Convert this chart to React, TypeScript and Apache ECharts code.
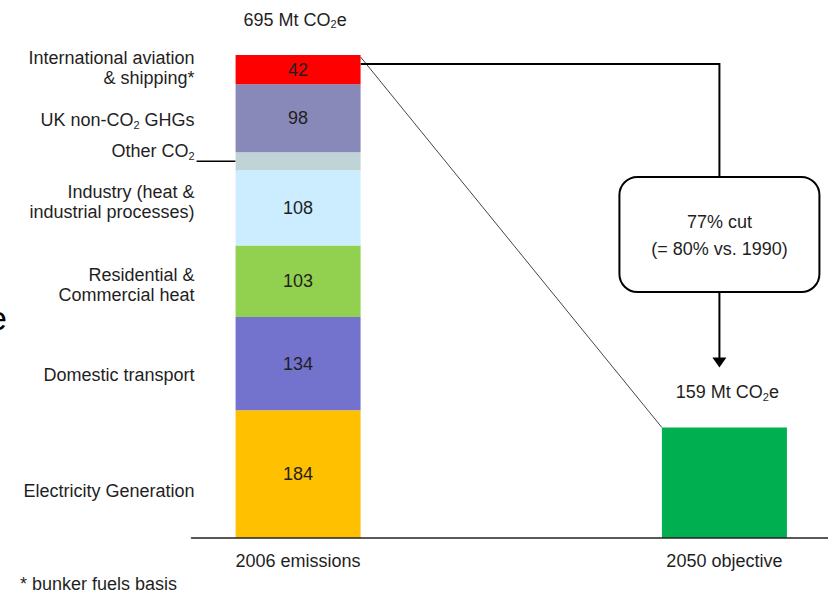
import React, { useEffect, useRef } from 'react';
import * as echarts from 'echarts';

const categories = ['2006 emissions', '', '2050 objective'];
const sectorNames = [
  'Electricity Generation',
  'Domestic transport',
  'Residential &\nCommercial heat',
  'Industry (heat &\nindustrial processes)',
  'Other CO_2',
  'UK non-CO_2 GHGs',
  'International aviation\n& shipping*',
];
const sectorValues2006 = [184, 134, 103, 108, 26, 98, 42];
const sectorColors = ['#FFC000', '#7373CD', '#92D050', '#CCECFF', '#C0D3D6', '#8989B9', '#FF0000'];
const showValueLabel = [true, true, true, true, false, true, true];
const nameLabelNudge = [17, 11, 4, -6, -10, 2, -2];
const total2006 = 695;
const objective2050 = 159;
const totalLabels = ['695 Mt CO_2e', '159 Mt CO_2e'];
const cutText = '77% cut\n(= 80% vs. 1990)';
const footnote = '* bunker fuels basis';

const FONT = 'Liberation Sans, Arial, Helvetica, sans-serif';
const TXT = '#1f1f1f';

function richify(text: string): string {
  return text
    .split('\n')
    .map((line) =>
      line
        .split('_2')
        .map((p, i) => (i > 0 ? '{s|2}' : '') + (p ? `{a|${p}}` : ''))
        .join('')
    )
    .join('\n');
}

const richStyles = {
  a: { fontSize: 18, lineHeight: 20, color: TXT, fontFamily: FONT },
  s: { fontSize: 11, lineHeight: 8, color: TXT, fontFamily: FONT, verticalAlign: 'bottom' },
};

export default function App() {
  const ref = useRef<HTMLDivElement>(null);

  useEffect(() => {
    document.body.style.margin = '0';
    document.body.style.overflow = 'hidden';
    if (!ref.current) return;
    const chart = echarts.init(ref.current, undefined, { renderer: 'svg' });

    const cum: number[] = [];
    let acc = 0;
    sectorValues2006.forEach((v) => {
      cum.push(acc + v / 2);
      acc += v;
    });

    const series: any[] = sectorValues2006.map((v, i) => ({
      type: 'bar',
      name: sectorNames[i],
      stack: 'all',
      barWidth: 125,
      data: [v, '-', '-'],
      itemStyle: { color: sectorColors[i] },
      label: {
        show: showValueLabel[i],
        position: 'inside',
        fontSize: 18,
        color: TXT,
        fontFamily: FONT,
      },
      markPoint: {
        symbol: 'circle',
        symbolSize: 1,
        itemStyle: { color: 'rgba(0,0,0,0)' },
        data: [
          {
            coord: [0, cum[i]],
            name: sectorNames[i],
            label: {
              show: true,
              position: 'left',
              distance: 103,
              offset: [0, nameLabelNudge[i]],
              align: 'right',
              formatter: richify(sectorNames[i]),
              rich: richStyles,
            },
          },
          ...(i === sectorValues2006.length - 1
            ? [
                {
                  coord: [0, total2006],
                  name: 'total',
                  label: {
                    show: true,
                    position: 'top',
                    distance: 25,
                    offset: [-3, 0],
                    formatter: richify(totalLabels[0]),
                    rich: richStyles,
                  },
                },
              ]
            : []),
        ],
      },
    }));

    series.push({
      type: 'bar',
      name: '2050 objective',
      stack: 'all',
      barWidth: 125,
      data: ['-', '-', objective2050],
      itemStyle: { color: '#00B050' },
      markPoint: {
        symbol: 'circle',
        symbolSize: 1,
        itemStyle: { color: 'rgba(0,0,0,0)' },
        data: [
          {
            coord: [2, objective2050],
            name: '2050',
            label: {
              show: true,
              position: 'top',
              distance: 25,
              offset: [3, 0],
              formatter: richify(totalLabels[1]),
              rich: richStyles,
            },
          },
        ],
      },
    });

    chart.setOption({
      animation: false,
      grid: { left: 191.5, right: 0, top: 55, bottom: 55 },
      xAxis: {
        type: 'category',
        data: categories,
        z: 10,
        axisLine: { lineStyle: { color: '#222', width: 1.5 } },
        axisTick: { show: false },
        axisLabel: { fontSize: 18, color: TXT, fontFamily: FONT, margin: 14 },
      },
      yAxis: { type: 'value', min: 0, max: total2006, show: false, splitLine: { show: false } },
      series,
    });

    const half = 62.5;
    const [cx06, yTop] = chart.convertToPixel({ gridIndex: 0 }, [0, total2006]) as number[];
    const [cx50, y50] = chart.convertToPixel({ gridIndex: 0 }, [2, objective2050]) as number[];
    const otherMid = chart.convertToPixel({ gridIndex: 0 }, [0, cum[4]]) as number[];
    const ax = cx50 - 5;
    const boxTop = 177;
    const boxH = 115;
    const boxW = 200;

    chart.setOption({
      graphic: [
        {
          type: 'line',
          shape: { x1: cx06 + half, y1: yTop + 2, x2: cx50 - half, y2: y50 },
          style: { stroke: '#444', lineWidth: 1 },
        },
        {
          type: 'polyline',
          shape: { points: [[cx06 + half, yTop + 9], [ax, yTop + 9], [ax, boxTop]] },
          style: { stroke: '#000', lineWidth: 2, fill: 'none' },
        },
        {
          type: 'rect',
          shape: { x: ax - boxW / 2, y: boxTop, width: boxW, height: boxH, r: 18 },
          style: { stroke: '#000', lineWidth: 2, fill: '#fff' },
        },
        {
          type: 'text',
          x: ax,
          y: boxTop + boxH / 2 + 1,
          style: {
            text: cutText,
            font: `18px ${FONT}`,
            fill: TXT,
            align: 'center',
            verticalAlign: 'middle',
            lineHeight: 27,
          },
        },
        {
          type: 'line',
          shape: { x1: ax, y1: boxTop + boxH, x2: ax, y2: y50 - 68 },
          style: { stroke: '#000', lineWidth: 2 },
        },
        {
          type: 'polygon',
          shape: { points: [[ax - 7, y50 - 70], [ax + 7, y50 - 70], [ax, y50 - 60]] },
          style: { fill: '#000' },
        },
        {
          type: 'line',
          shape: { x1: cx06 - half - 39, y1: otherMid[1], x2: cx06 - half, y2: otherMid[1] },
          style: { stroke: '#000', lineWidth: 1.5 },
        },
        {
          type: 'text',
          x: -12,
          y: 318,
          style: { text: 'e', font: `34px ${FONT}`, fill: '#000', align: 'left', verticalAlign: 'middle' },
        },
        {
          type: 'text',
          x: 20,
          y: 584,
          style: { text: footnote, font: `18px ${FONT}`, fill: TXT, align: 'left', verticalAlign: 'middle' },
        },
      ],
    });

    return () => chart.dispose();
  }, []);

  return <div ref={ref} style={{ width: 831, height: 593 }} />;
}
